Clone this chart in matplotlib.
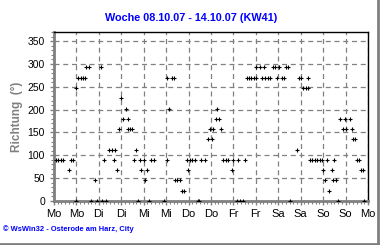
import matplotlib
matplotlib.use("Agg")
import matplotlib.pyplot as plt
from matplotlib.lines import Line2D
from matplotlib.ticker import MultipleLocator

plt.rcParams["font.family"] = ["Liberation Sans", "DejaVu Sans"]

# hours since Monday 00:00 and wind direction in degrees
hours = [1.1, 2.3, 3.6, 5.0, 8.2, 9.1, 10.3, 11.6, 11.8, 13.0, 14.2, 15.4, 16.6,
         17.1, 18.9, 19.8, 22.1, 22.8, 25.1, 25.5, 26.9, 27.7, 29.3, 30.9, 32.3,
         32.6, 33.9, 34.9, 35.8, 37.1, 38.4, 39.4, 39.8, 40.8, 41.9, 43.0, 44.0,
         45.1, 46.2, 46.5, 48.0, 48.8, 49.9, 51.0, 51.9, 53.7, 58.9, 60.3, 60.3,
         61.7, 63.1, 64.2, 64.7, 66.0, 67.4, 68.5, 69.6, 71.0, 71.9, 72.8, 74.0,
         75.4, 76.9, 77.7, 78.6, 80.8, 82.6, 83.5, 84.4, 85.2, 86.7, 87.4, 88.1,
         89.3, 90.6, 91.9, 93.3, 95.4, 95.9, 97.7, 98.6, 99.5, 101.3, 102.2, 103.1,
         104.3, 105.6, 106.8, 107.9, 108.1, 110.2, 111.1, 112.5, 112.9, 114.3,
         115.6, 117.3, 118.3, 119.5, 120.5, 121.8, 123.1, 124.1, 125.4, 126.3,
         130.2, 131.1, 132.4, 133.4, 134.8, 136.0, 136.0, 137.0, 138.3, 139.6,
         140.8, 142.3, 143.4, 144.1, 145.0, 146.2, 147.3, 148.6, 149.1, 149.8,
         150.7, 152.1, 153.0, 154.4, 155.7, 156.2, 158.4, 159.3, 160.1, 161.2,
         162.3, 163.3, 164.1, 165.2, 166.0]
direction = [90, 90, 90, 90, 67.5, 90, 90, 0, 247.5, 270, 270, 270, 270,
             292.5, 292.5, 0, 45, 0, 292.5, 0, 90, 0, 112.5, 112.5, 90,
             112.5, 67.5, 157.5, 225, 180, 202.5, 157.5, 180, 157.5, 157.5, 90, 112.5,
             0, 90, 67.5, 90, 45, 67.5, 0, 90, 90, 0, 270, 90,
             202.5, 270, 270, 45, 45, 45, 22.5, 22.5, 90, 67.5, 90, 90,
             90, 0, 0, 90, 90, 135, 157.5, 135, 157.5, 180, 202.5, 180,
             157.5, 90, 90, 90, 67.5, 90, 0, 90, 0, 0, 90, 270,
             270, 270, 270, 292.5, 270, 292.5, 270, 292.5, 270, 270,
             270, 292.5, 292.5, 270, 292.5, 270, 270, 292.5, 292.5, 0,
             112.5, 270, 270, 247.5, 247.5, 247.5, 270, 90, 90, 90,
             90, 90, 90, 67.5, 45, 90, 22.5, 67.5, 45, 90,
             45, 0, 180, 157.5, 180, 157.5, 180, 157.5, 135, 135,
             90, 90, 67.5, 67.5, 0]

day_labels = ["Mo", "Mo", "Di", "Di", "Mi", "Mi", "Do", "Do",
              "Fr", "Fr", "Sa", "Sa", "So", "So", "Mo"]
y_ticks = [0, 50, 100, 150, 200, 250, 300, 350]

fig = plt.figure(figsize=(3.8, 2.45), dpi=100)
ax = fig.add_axes([54 / 380, 1 - 201 / 245, 314 / 380, 169 / 245])

ax.plot(hours, direction, linestyle="None", marker="+", markersize=3.2,
        markeredgewidth=0.8, color="black", zorder=3)

ax.set_xlim(0, 168)
ax.set_ylim(0, 370)
ax.set_xticks(range(0, 169, 12))
ax.set_xticklabels(day_labels)
ax.set_yticks(y_ticks)
ax.xaxis.set_minor_locator(MultipleLocator(2))
ax.yaxis.set_minor_locator(MultipleLocator(10))
ax.tick_params(which="both", colors="#808080", labelcolor="black", labelsize=7.5,
               direction="out")
ax.tick_params(which="major", length=3, width=1)
ax.tick_params(which="minor", length=2, width=0.8)
ax.tick_params(axis="x", pad=3, labelsize=8)

ax.grid(True, color="#808080", linestyle=(0, (4, 3)), linewidth=0.9)
ax.set_axisbelow(True)

for side in ["left", "bottom"]:
    ax.spines[side].set_color("#808080")
    ax.spines[side].set_linewidth(2)
for side in ["top", "right"]:
    ax.spines[side].set_color("black")
    ax.spines[side].set_linewidth(1)

ax.set_ylabel("Richtung  (°)", color="#808080", fontweight="bold", fontsize=8.5,
              labelpad=3)

fig.text(0.503, 0.927, "Woche 08.10.07 - 14.10.07 (KW41)", color="#0000ff",
         fontweight="bold", fontsize=7.8, ha="center", va="center")
fig.text(0.008, 0.065, "© WsWin32 - Osterode am Harz, City", color="#0000ff",
         fontweight="bold", fontsize=5.4, ha="left", va="center")

# window frame on right and bottom edge
fig.add_artist(Line2D([377.5 / 380, 377.5 / 380], [0.005, 1], color="#808080", linewidth=2))
fig.add_artist(Line2D([0, 377.5 / 380], [1.5 / 245, 1.5 / 245], color="#808080", linewidth=2))

fig.savefig("out.png", dpi=100)
